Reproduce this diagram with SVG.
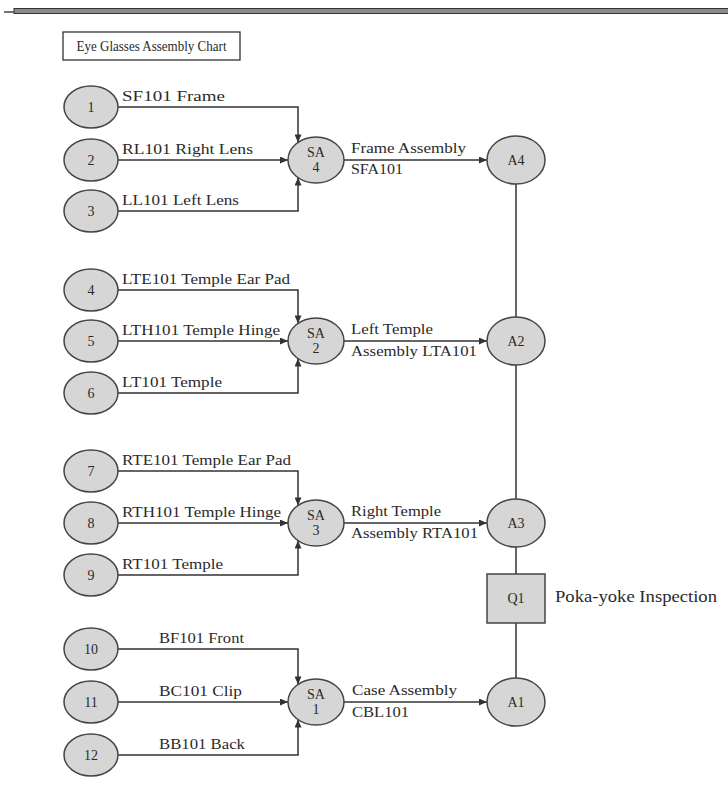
<svg xmlns="http://www.w3.org/2000/svg" width="728" height="785" viewBox="0 0 728 785">
  <defs>
    <marker id="arrow" viewBox="0 0 8 7" refX="8" refY="3.5" markerWidth="8" markerHeight="7" markerUnits="userSpaceOnUse" orient="auto">
      <path d="M0,0 L8,3.5 L0,7 z" fill="#333"/>
    </marker>
    <style>
      text { font-family: "Liberation Serif", "Times New Roman", serif; fill: #2a2a2a; }
      .part { fill: #d6d6d6; stroke: #444; stroke-width: 1.5; }
      .num { font-size: 14px; text-anchor: middle; }
      .lbl { font-size: 15px; }
      .out { font-size: 15px; }
      .wire { fill: none; stroke: #333; stroke-width: 1.5; }
      .arr { marker-end: url(#arrow); }
    </style>
  </defs>
  <rect width="728" height="785" fill="#fff"/>

  <!-- header rule -->
  <line x1="4" y1="12" x2="14" y2="12" stroke="#444" stroke-width="1.5"/>
  <rect x="14" y="8.5" width="720" height="5" fill="#8a8a8a" stroke="#333" stroke-width="1"/>

  <!-- title -->
  <g id="title">
    <rect x="63" y="32" width="177" height="28" fill="#fff" stroke="#333" stroke-width="1.3"/>
    <text x="151.5" y="51" font-size="15" text-anchor="middle" textLength="150" lengthAdjust="spacingAndGlyphs">Eye Glasses Assembly Chart</text>
  </g>

  <!-- connectors -->
  <g id="connectors">
    <!-- frame sub-assembly -->
    <path class="wire arr" d="M118,107 H298 V142.4"/>
    <path class="wire arr" d="M118,160 H288"/>
    <path class="wire arr" d="M118,211 H298 V177.6"/>
    <path class="wire arr" d="M344,160 H487"/>
    <!-- left temple sub-assembly -->
    <path class="wire arr" d="M118,290 H298 V323.4"/>
    <path class="wire arr" d="M118,341 H288"/>
    <path class="wire arr" d="M118,393 H298 V358.6"/>
    <path class="wire arr" d="M344,341 H487"/>
    <!-- right temple sub-assembly -->
    <path class="wire arr" d="M118,471 H298 V505.4"/>
    <path class="wire arr" d="M118,523 H288"/>
    <path class="wire arr" d="M118,575 H298 V540.6"/>
    <path class="wire arr" d="M344,523 H487"/>
    <!-- case sub-assembly -->
    <path class="wire arr" d="M118,649 H298 V684.4"/>
    <path class="wire arr" d="M118,702 H288"/>
    <path class="wire arr" d="M118,755 H298 V719.6"/>
    <path class="wire arr" d="M344,702 H487"/>
    <!-- main assembly line -->
    <path class="wire" d="M516,184 V317 M516,365 V499 M516,547 V574 M516,623 V678"/>
  </g>

  <!-- connector labels -->
  <g id="labels">
    <text class="lbl" x="122" y="101" textLength="103" lengthAdjust="spacingAndGlyphs">SF101 Frame</text>
    <text class="lbl" x="122" y="154" textLength="131" lengthAdjust="spacingAndGlyphs">RL101 Right Lens</text>
    <text class="lbl" x="122" y="205" textLength="117" lengthAdjust="spacingAndGlyphs">LL101 Left Lens</text>
    <text class="out" x="351" y="153" textLength="115" lengthAdjust="spacingAndGlyphs">Frame Assembly</text>
    <text class="out" x="351" y="174" textLength="52" lengthAdjust="spacingAndGlyphs">SFA101</text>

    <text class="lbl" x="122" y="284" textLength="168" lengthAdjust="spacingAndGlyphs">LTE101 Temple Ear Pad</text>
    <text class="lbl" x="122" y="335" textLength="158" lengthAdjust="spacingAndGlyphs">LTH101 Temple Hinge</text>
    <text class="lbl" x="122" y="387" textLength="100" lengthAdjust="spacingAndGlyphs">LT101 Temple</text>
    <text class="out" x="351" y="334" textLength="82" lengthAdjust="spacingAndGlyphs">Left Temple</text>
    <text class="out" x="351" y="356" textLength="126" lengthAdjust="spacingAndGlyphs">Assembly LTA101</text>

    <text class="lbl" x="122" y="465" textLength="169" lengthAdjust="spacingAndGlyphs">RTE101 Temple Ear Pad</text>
    <text class="lbl" x="122" y="517" textLength="159" lengthAdjust="spacingAndGlyphs">RTH101 Temple Hinge</text>
    <text class="lbl" x="122" y="569" textLength="101" lengthAdjust="spacingAndGlyphs">RT101 Temple</text>
    <text class="out" x="351" y="516" textLength="90" lengthAdjust="spacingAndGlyphs">Right Temple</text>
    <text class="out" x="351" y="538" textLength="127" lengthAdjust="spacingAndGlyphs">Assembly RTA101</text>

    <text class="lbl" x="159" y="643" textLength="85" lengthAdjust="spacingAndGlyphs">BF101 Front</text>
    <text class="lbl" x="159" y="696" textLength="83" lengthAdjust="spacingAndGlyphs">BC101 Clip</text>
    <text class="lbl" x="159" y="749" textLength="86" lengthAdjust="spacingAndGlyphs">BB101 Back</text>
    <text class="out" x="352" y="695" textLength="105" lengthAdjust="spacingAndGlyphs">Case Assembly</text>
    <text class="out" x="352" y="717" textLength="57" lengthAdjust="spacingAndGlyphs">CBL101</text>

    <text x="555" y="602" font-size="16" textLength="162" lengthAdjust="spacingAndGlyphs">Poka-yoke Inspection</text>
  </g>

  <!-- part nodes -->
  <g id="part-1"><ellipse class="part" cx="91" cy="107" rx="27" ry="21"/><text class="num" x="91" y="112">1</text></g>
  <g id="part-2"><ellipse class="part" cx="91" cy="160" rx="27" ry="21"/><text class="num" x="91" y="165">2</text></g>
  <g id="part-3"><ellipse class="part" cx="91" cy="211" rx="27" ry="21"/><text class="num" x="91" y="216">3</text></g>
  <g id="part-4"><ellipse class="part" cx="91" cy="290" rx="27" ry="21"/><text class="num" x="91" y="295">4</text></g>
  <g id="part-5"><ellipse class="part" cx="91" cy="341" rx="27" ry="21"/><text class="num" x="91" y="346">5</text></g>
  <g id="part-6"><ellipse class="part" cx="91" cy="393" rx="27" ry="21"/><text class="num" x="91" y="398">6</text></g>
  <g id="part-7"><ellipse class="part" cx="91" cy="471" rx="27" ry="21"/><text class="num" x="91" y="476">7</text></g>
  <g id="part-8"><ellipse class="part" cx="91" cy="523" rx="27" ry="21"/><text class="num" x="91" y="528">8</text></g>
  <g id="part-9"><ellipse class="part" cx="91" cy="575" rx="27" ry="21"/><text class="num" x="91" y="580">9</text></g>
  <g id="part-10"><ellipse class="part" cx="91" cy="649" rx="27" ry="21"/><text class="num" x="91" y="654">10</text></g>
  <g id="part-11"><ellipse class="part" cx="91" cy="702" rx="27" ry="21"/><text class="num" x="91" y="707">11</text></g>
  <g id="part-12"><ellipse class="part" cx="91" cy="755" rx="27" ry="21"/><text class="num" x="91" y="760">12</text></g>

  <!-- sub-assembly nodes -->
  <g id="sa-4"><ellipse class="part" cx="316" cy="160" rx="28" ry="23"/><text class="num" x="316" y="157">SA</text><text class="num" x="316" y="172">4</text></g>
  <g id="sa-2"><ellipse class="part" cx="316" cy="341" rx="28" ry="23"/><text class="num" x="316" y="338">SA</text><text class="num" x="316" y="353">2</text></g>
  <g id="sa-3"><ellipse class="part" cx="316" cy="523" rx="28" ry="23"/><text class="num" x="316" y="520">SA</text><text class="num" x="316" y="535">3</text></g>
  <g id="sa-1"><ellipse class="part" cx="316" cy="702" rx="28" ry="23"/><text class="num" x="316" y="699">SA</text><text class="num" x="316" y="714">1</text></g>

  <!-- assembly nodes -->
  <g id="a-4"><ellipse class="part" cx="516" cy="160" rx="29" ry="24"/><text class="num" x="516" y="165">A4</text></g>
  <g id="a-2"><ellipse class="part" cx="516" cy="341" rx="29" ry="24"/><text class="num" x="516" y="346">A2</text></g>
  <g id="a-3"><ellipse class="part" cx="516" cy="523" rx="29" ry="24"/><text class="num" x="516" y="528">A3</text></g>
  <g id="a-1"><ellipse class="part" cx="516" cy="702" rx="29" ry="24"/><text class="num" x="516" y="707">A1</text></g>

  <!-- inspection node -->
  <g id="q-1"><rect class="part" x="487" y="574" width="58" height="49"/><text class="num" x="516" y="603">Q1</text></g>
</svg>
